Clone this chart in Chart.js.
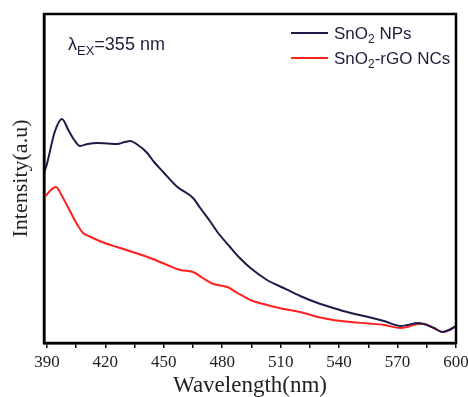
<!DOCTYPE html>
<html>
<head>
<meta charset="utf-8">
<script src="https://cdn.jsdelivr.net/npm/chart.js@4.4.0/dist/chart.umd.min.js"></script>
<style>
  html, body { margin: 0; padding: 0; background: #fff; }
  #wrap { width: 468px; height: 397px; }
</style>
</head>
<body>
<div id="wrap"><canvas id="plChart" width="468" height="397"></canvas></div>
<script>
// wavelength (nm) / intensity (a.u.)
const snoWave = [388.5, 390, 394, 397.7, 401, 404, 407, 411, 415.7, 421, 426, 430, 432.7, 436, 441.5, 445, 449.7, 457, 465, 468.7, 474, 477.5, 484, 489, 494.5, 503, 511.5, 520, 529, 537, 546, 555, 563, 571.7, 575, 580.4, 583.5, 588.7, 593, 596.5, 600];
const snoInt = [170, 179, 211, 224, 213, 203, 197, 199, 200, 199.5, 199, 201, 202, 199, 190, 181, 171, 156, 145, 135, 121, 111, 96, 85, 75, 63, 55, 47, 40, 35, 30, 26, 22, 17, 18, 20, 19, 15, 11, 13, 17];

const rgoWave = [388.5, 390, 392, 394.6, 398, 400.5, 403.4, 406, 408.5, 412, 417, 421, 426, 434, 443, 451.8, 458.5, 465, 470, 475.4, 482.6, 487.8, 494.5, 503, 511.5, 520, 529, 537, 546, 555, 563, 571.7, 575, 580.4, 583.5, 588.7, 593, 596.5, 600];
const rgoInt = [146, 148.5, 153, 156, 146, 137, 126, 117, 110, 106.5, 102, 99, 96, 91, 85, 78, 73, 71, 65, 59, 56, 50, 43, 38, 34, 31, 26, 23, 21, 19.5, 18, 15, 16, 19, 19, 15, 11, 13, 17];

const xTicks = [390, 405, 420, 435, 450, 465, 480, 495, 510, 525, 540, 555, 570, 585, 600];

const navy = '#1c1c4a';
const red = '#ff1f1f';
const serif = '"Liberation Serif", "Times New Roman", serif';

const toPoints = (xs, ys) => xs.map((x, i) => ({ x: x, y: ys[i] }));

// text with subscript pieces
function drawRich(ctx, parts, x, y, size) {
    let cx = x;
    parts.forEach(p => {
        const sub = p.sub === true;
        ctx.font = `${sub ? Math.round(size * 0.7) : size}px "Liberation Sans", Arial, sans-serif`;
        ctx.fillText(p.t, cx, sub ? y + size * 0.25 : y);
        cx += ctx.measureText(p.t).width;
    });
}

const framePlugin = {
    id: 'frame',
    afterDraw(chart) {
        const ctx = chart.ctx;
        const a = chart.chartArea;
        ctx.save();
        ctx.strokeStyle = '#000';
        ctx.lineWidth = 2.5;
        ctx.strokeRect(a.left, a.top, a.right - a.left, a.bottom - a.top);

        // legend
        ctx.textBaseline = 'alphabetic';
        ctx.fillStyle = '#1e1e3c';
        ctx.lineWidth = 2;
        ctx.strokeStyle = navy;
        ctx.beginPath(); ctx.moveTo(291, 33); ctx.lineTo(328, 33); ctx.stroke();
        drawRich(ctx, [{ t: 'SnO' }, { t: '2', sub: true }, { t: ' NPs' }], 334, 39, 17);
        ctx.strokeStyle = red;
        ctx.beginPath(); ctx.moveTo(291, 58); ctx.lineTo(328, 58); ctx.stroke();
        drawRich(ctx, [{ t: 'SnO' }, { t: '2', sub: true }, { t: '-rGO NCs' }], 334, 64, 17);

        // excitation note
        drawRich(ctx, [{ t: 'λ' }, { t: 'EX', sub: true }, { t: '=355 nm' }], 68, 50, 18);
        ctx.restore();
    }
};

new Chart(document.getElementById('plChart').getContext('2d'), {
    type: 'line',
    data: {
        datasets: [{
            label: 'SnO2 NPs',
            data: toPoints(snoWave, snoInt),
            borderColor: navy,
            borderWidth: 2,
            pointRadius: 0,
            cubicInterpolationMode: 'monotone'
        }, {
            label: 'SnO2-rGO NCs',
            data: toPoints(rgoWave, rgoInt),
            borderColor: red,
            borderWidth: 2,
            pointRadius: 0,
            cubicInterpolationMode: 'monotone'
        }]
    },
    options: {
        responsive: false,
        animation: false,
        layout: { padding: { top: 14, right: 12, left: 0, bottom: 0 } },
        plugins: { legend: { display: false }, tooltip: { enabled: false } },
        scales: {
            x: {
                type: 'linear',
                min: 388.5,
                max: 600,
                afterBuildTicks: axis => { axis.ticks = xTicks.map(v => ({ value: v })); },
                afterFit: axis => {
                    axis.height = 54;
                    axis.paddingLeft = 0;
                    axis.paddingRight = 0;
                },
                ticks: {
                    autoSkip: false,
                    maxRotation: 0,
                    padding: 4,
                    color: '#222',
                    font: { family: serif, size: 17 },
                    callback: v => (v % 30 === 0 ? String(v) : '')
                },
                grid: { drawOnChartArea: false, tickLength: 5, color: '#000', lineWidth: 1.5 },
                border: { color: '#000', width: 2.5 },
                title: {
                    display: true,
                    text: 'Wavelength(nm)',
                    color: '#222',
                    padding: { top: 0, bottom: -3 },
                    font: { family: serif, size: 23 }
                }
            },
            y: {
                min: 0,
                max: 329,
                afterFit: axis => { axis.width = 44; },
                ticks: { display: false },
                grid: { display: false },
                border: { color: '#000', width: 2.5 },
                title: {
                    display: true,
                    text: 'Intensity(a.u)',
                    color: '#222',
                    padding: { top: 8, bottom: 0 },
                    font: { family: serif, size: 22 }
                }
            }
        }
    },
    plugins: [framePlugin]
});
</script>
</body>
</html>
